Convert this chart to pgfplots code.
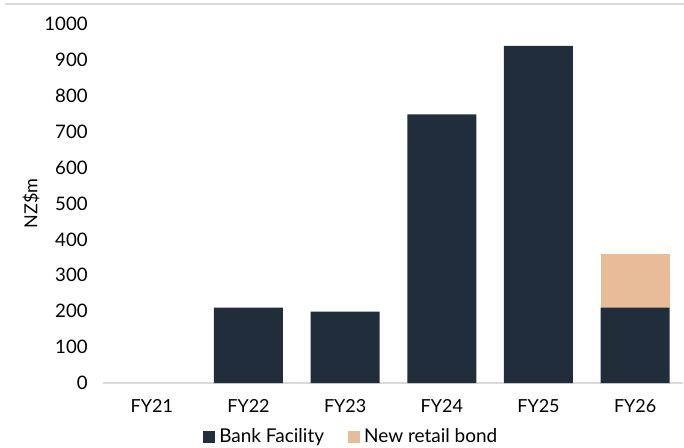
\documentclass[border=0pt]{standalone}
\usepackage{pgfplots}
\pgfplotsset{compat=1.18}
\usepackage{fontspec}
\setmainfont{Lato}
\definecolor{navy}{HTML}{212D3B}
\definecolor{peach}{HTML}{E8BC98}
\definecolor{axgray}{HTML}{D9D9D9}
\begin{document}
\fontsize{9pt}{11pt}\selectfont
\begin{tikzpicture}
\useasboundingbox (-50pt,-32pt) rectangle (292pt,191.5pt);
\draw[axgray, line width=1pt] (-47.5pt,189.75pt) -- (292pt,189.75pt);
\begin{axis}[
  at={(1.75pt,0)}, anchor=south west,
  scale only axis,
  width=290pt, height=179.5pt,
  ybar stacked, bar width=34.5pt,
  xmin=-0.5, xmax=5.5, ymin=0, ymax=1000,
  xtick={0,1,2,3,4,5},
  xticklabels={FY21,FY22,FY23,FY24,FY25,FY26},
  ytick={0,100,...,1000},
  axis x line*=bottom, axis y line*=left,
  x axis line style={axgray, line width=0.6pt, -},
  y axis line style={draw=none},
  major tick length=0pt,
  xticklabel style={yshift=-5pt},
  yticklabel style={xshift=-4.75pt, font=\fontsize{9.3pt}{11pt}\selectfont},
  /pgf/number format/assume math mode=true,
  /pgf/number format/set thousands separator={},
  ylabel={NZ\$m},
  ylabel style={at={(axis description cs:-0.125,0.5)}, anchor=center},
  legend style={at={(axis description cs:0.429,0)}, yshift=-27pt, anchor=center, draw=none, fill=none,
    legend columns=2, /tikz/every even column/.append style={column sep=10pt},
    font=\fontsize{9.5pt}{11pt}\selectfont, inner sep=0pt},
  legend image code/.code={\fill[#1] (0pt,-3pt) rectangle (6pt,3pt);},
  clip=false,
]
\addplot[fill=navy, draw=none] coordinates {(0,0) (1,210) (2,199) (3,748) (4,939) (5,210)};
\addlegendentry{Bank Facility}
\addplot[fill=peach, draw=none] coordinates {(0,0) (1,0) (2,0) (3,0) (4,0) (5,149)};
\addlegendentry{New retail bond}
\end{axis}
\end{tikzpicture}
\end{document}
